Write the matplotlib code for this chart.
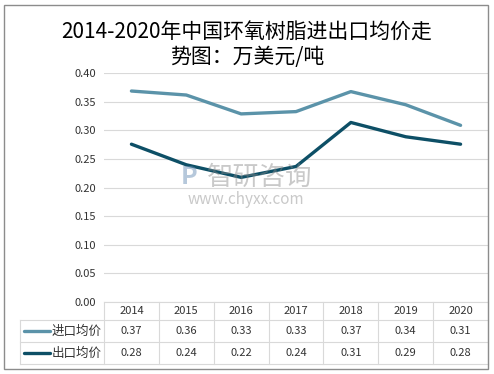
import matplotlib
matplotlib.use("Agg")
import matplotlib.pyplot as plt
from matplotlib.patches import Rectangle
from matplotlib.lines import Line2D

plt.rcParams['font.family'] = ['Noto Sans CJK SC', 'DejaVu Sans']

years = ['2014', '2015', '2016', '2017', '2018', '2019', '2020']
import_price = [0.369, 0.362, 0.329, 0.333, 0.368, 0.345, 0.309]
export_price = [0.276, 0.240, 0.218, 0.237, 0.314, 0.289, 0.276]
series_names = ['进口均价', '出口均价']
series_colors = ['#5b93a9', '#0d4f66']
yticks = [0.00, 0.05, 0.10, 0.15, 0.20, 0.25, 0.30, 0.35, 0.40]
title = '2014-2020年中国环氧树脂进出口均价走\n势图：万美元/吨'

fig = plt.figure(figsize=(4.94, 3.74), dpi=100)
fig.patches.append(Rectangle((4 / 494, 1 - 369 / 374), 484 / 494, 364 / 374,
                             transform=fig.transFigure, fill=False,
                             edgecolor='#8c8c8c', linewidth=1.0))

ax = fig.add_axes([104 / 494, 1 - 302 / 374, 384 / 494, 228.7 / 374])
x = list(range(len(years)))
series = [import_price, export_price]
for vals, c in zip(series, series_colors):
    ax.plot(x, vals, color=c, linewidth=2.4, solid_capstyle='round', zorder=3)

ax.set_xlim(-0.5, len(years) - 0.5)
ax.set_ylim(0, 0.40)
ax.set_yticks(yticks)
ax.set_yticklabels(['%.2f' % t for t in yticks], fontsize=8, color='#333333',
                   fontweight='medium')
ax.tick_params(axis='y', length=0, pad=6)
ax.set_xticks([])
ax.grid(axis='y', color='#d9d9d9', linewidth=0.8)
ax.set_axisbelow(True)
for s in ax.spines.values():
    s.set_visible(False)

# data table below the axis
trans = ax.get_xaxis_transform()
grid_c = '#d9d9d9'
row_y = [0, -0.080, -0.176, -0.270]
label_left = -0.5 - 84 / 54.86
for i in range(len(years) + 1):
    ax.add_line(Line2D([i - 0.5, i - 0.5], [row_y[0], row_y[-1]], transform=trans,
                       color=grid_c, linewidth=0.8, clip_on=False))
ax.add_line(Line2D([label_left, label_left], [row_y[1], row_y[-1]], transform=trans,
                   color=grid_c, linewidth=0.8, clip_on=False))
for k, yy in enumerate(row_y):
    x0 = -0.5 if k == 0 else label_left
    ax.add_line(Line2D([x0, len(years) - 0.5], [yy, yy], transform=trans,
                       color=grid_c, linewidth=0.8, clip_on=False))

for i, yr in enumerate(years):
    ax.text(i, (row_y[0] + row_y[1]) / 2, yr, transform=trans, ha='center',
            va='center', fontsize=8, color='#333333', fontweight='medium',
            clip_on=False)
for r, (vals, name, c) in enumerate(zip(series, series_names, series_colors)):
    yc = (row_y[r + 1] + row_y[r + 2]) / 2
    for i, v in enumerate(vals):
        ax.text(i, yc, '%.2f' % v, transform=trans, ha='center', va='center',
                fontsize=8, color='#333333', fontweight='medium', clip_on=False)
    lx0 = label_left + 4 / 54.86
    lx1 = label_left + 30 / 54.86
    ax.add_line(Line2D([lx0, lx1], [yc, yc], transform=trans, color=c,
                       linewidth=2.4, solid_capstyle='round', clip_on=False))
    ax.text(-0.5 - 2 / 54.86, yc, name, transform=trans, ha='right', va='center',
            fontsize=9, color='#333333', fontweight='medium', clip_on=False)

fig.text(247 / 494, 1 - 45 / 374, title, ha='center', va='center', fontsize=15,
         color='black', linespacing=1.15)

# watermark
fig.text(260 / 494, 1 - 177 / 374, '智研咨询', ha='center', va='center',
         fontsize=19, color='#888888', alpha=0.45)
fig.text(189 / 494, 1 - 177 / 374, 'P', ha='center', va='center',
         fontsize=18, color='#6f93b8', alpha=0.5, fontweight='bold')
fig.text(246 / 494, 1 - 199 / 374, 'www.chyxx.com', ha='center', va='center',
         fontsize=11, color='#888888', alpha=0.45)

fig.savefig('out.png', dpi=100)
